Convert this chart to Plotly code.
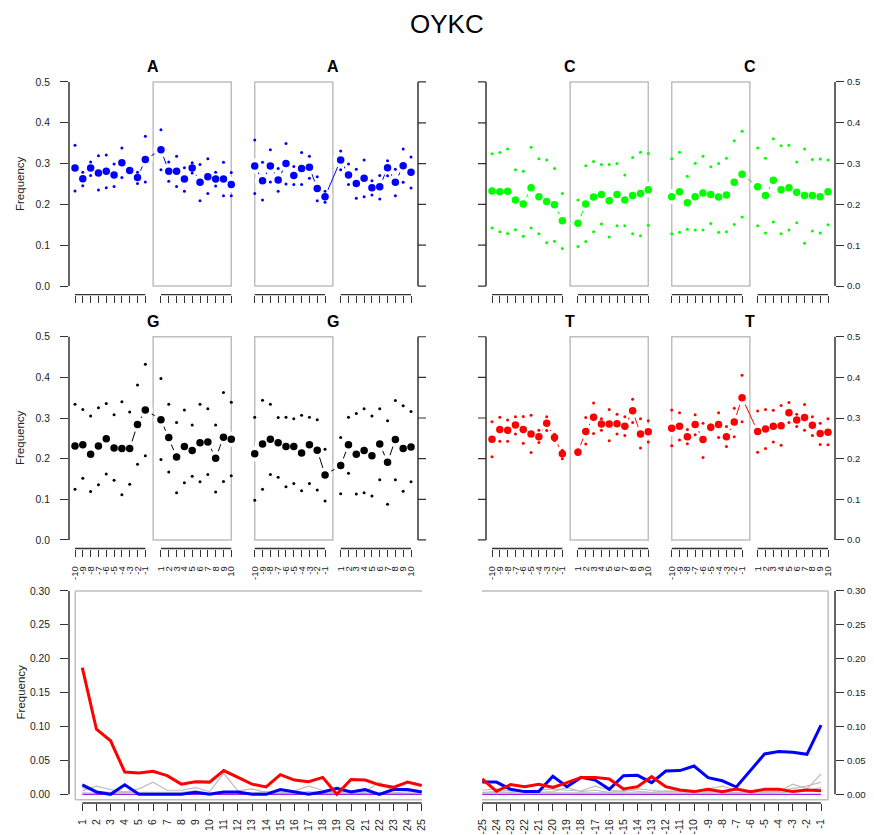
import plotly.graph_objects as go

# The page body has an 8px margin; reference pixel coordinates are shifted by it.
OFF = 8
W, H = 874 - OFF, 835 - OFF
FONT = "Liberation Sans, Arial, Helvetica, sans-serif"

# ---------------- data ----------------
POS_LABELS = [str(i) for i in range(-10, 0)] + [str(i) for i in range(1, 11)]
TICK_LABELS = POS_LABELS + POS_LABELS
X_POS = list(range(1, 11)) + list(range(12, 22)) + list(range(24, 34)) + list(range(35, 45))

A_mean = [0.289, 0.263, 0.289, 0.277, 0.281, 0.272, 0.302, 0.283, 0.266, 0.310,
          0.334, 0.281, 0.281, 0.262, 0.289, 0.254, 0.268, 0.262, 0.262, 0.249,
          0.294, 0.258, 0.294, 0.260, 0.300, 0.271, 0.288, 0.291, 0.239, 0.219,
          0.309, 0.272, 0.251, 0.264, 0.241, 0.243, 0.290, 0.254, 0.295, 0.279]
A_hi = [0.345, 0.279, 0.304, 0.319, 0.321, 0.299, 0.338, 0.287, 0.279, 0.367,
        0.383, 0.304, 0.318, 0.290, 0.302, 0.298, 0.312, 0.279, 0.303, 0.278,
        0.358, 0.303, 0.334, 0.288, 0.349, 0.293, 0.327, 0.318, 0.268, 0.232,
        0.331, 0.299, 0.286, 0.309, 0.258, 0.271, 0.307, 0.286, 0.336, 0.316]
A_lo = [0.233, 0.246, 0.271, 0.235, 0.241, 0.244, 0.266, 0.279, 0.251, 0.255,
        0.285, 0.257, 0.244, 0.232, 0.277, 0.209, 0.227, 0.245, 0.221, 0.221,
        0.227, 0.211, 0.255, 0.232, 0.250, 0.249, 0.249, 0.264, 0.209, 0.205,
        0.285, 0.249, 0.215, 0.219, 0.223, 0.213, 0.270, 0.221, 0.254, 0.240]

C_mean = [0.233, 0.231, 0.232, 0.211, 0.201, 0.241, 0.219, 0.207, 0.199, 0.160,
          0.154, 0.201, 0.218, 0.224, 0.209, 0.224, 0.211, 0.222, 0.227, 0.236,
          0.219, 0.231, 0.204, 0.219, 0.228, 0.224, 0.218, 0.223, 0.254, 0.274,
          0.243, 0.222, 0.259, 0.236, 0.241, 0.230, 0.222, 0.222, 0.219, 0.231]
C_hi = [0.324, 0.327, 0.336, 0.285, 0.281, 0.340, 0.312, 0.309, 0.288, 0.227,
        0.211, 0.295, 0.305, 0.298, 0.298, 0.300, 0.272, 0.315, 0.328, 0.325,
        0.312, 0.328, 0.269, 0.301, 0.318, 0.292, 0.300, 0.313, 0.356, 0.379,
        0.338, 0.313, 0.361, 0.344, 0.345, 0.304, 0.336, 0.310, 0.311, 0.309]
C_lo = [0.142, 0.133, 0.129, 0.138, 0.122, 0.142, 0.128, 0.106, 0.110, 0.092,
        0.097, 0.109, 0.133, 0.152, 0.120, 0.148, 0.148, 0.128, 0.123, 0.149,
        0.128, 0.132, 0.139, 0.137, 0.137, 0.153, 0.132, 0.133, 0.151, 0.169,
        0.148, 0.130, 0.157, 0.128, 0.137, 0.155, 0.105, 0.135, 0.130, 0.150]

G_mean = [0.231, 0.234, 0.211, 0.231, 0.249, 0.226, 0.225, 0.225, 0.284, 0.320,
          0.296, 0.252, 0.204, 0.230, 0.220, 0.239, 0.241, 0.201, 0.253, 0.248,
          0.212, 0.236, 0.248, 0.239, 0.230, 0.230, 0.214, 0.234, 0.221, 0.160,
          0.183, 0.234, 0.211, 0.220, 0.207, 0.236, 0.191, 0.247, 0.225, 0.229]
G_hi = [0.334, 0.321, 0.305, 0.325, 0.336, 0.308, 0.340, 0.315, 0.381, 0.432,
        0.397, 0.334, 0.289, 0.320, 0.283, 0.334, 0.323, 0.283, 0.363, 0.339,
        0.302, 0.344, 0.334, 0.301, 0.302, 0.298, 0.307, 0.302, 0.296, 0.223,
        0.252, 0.302, 0.311, 0.323, 0.305, 0.323, 0.293, 0.343, 0.330, 0.316]
G_lo = [0.125, 0.152, 0.119, 0.136, 0.162, 0.147, 0.111, 0.137, 0.186, 0.207,
        0.198, 0.167, 0.116, 0.141, 0.157, 0.143, 0.161, 0.118, 0.144, 0.158,
        0.098, 0.125, 0.161, 0.154, 0.131, 0.139, 0.121, 0.139, 0.123, 0.096,
        0.114, 0.164, 0.113, 0.116, 0.108, 0.148, 0.088, 0.148, 0.120, 0.143]

T_mean = [0.248, 0.272, 0.270, 0.283, 0.272, 0.261, 0.254, 0.287, 0.252, 0.212,
          0.216, 0.267, 0.302, 0.285, 0.285, 0.286, 0.280, 0.318, 0.261, 0.266,
          0.275, 0.280, 0.254, 0.284, 0.247, 0.277, 0.284, 0.254, 0.290, 0.350,
          0.267, 0.273, 0.280, 0.281, 0.313, 0.295, 0.301, 0.282, 0.262, 0.265]
T_hi = [0.291, 0.302, 0.295, 0.303, 0.304, 0.307, 0.270, 0.303, 0.260, 0.221,
        0.222, 0.301, 0.337, 0.298, 0.321, 0.309, 0.303, 0.346, 0.298, 0.293,
        0.320, 0.313, 0.272, 0.308, 0.287, 0.283, 0.313, 0.279, 0.324, 0.405,
        0.317, 0.321, 0.319, 0.331, 0.338, 0.309, 0.333, 0.303, 0.287, 0.298]
T_lo = [0.205, 0.243, 0.243, 0.261, 0.238, 0.215, 0.240, 0.269, 0.245, 0.200,
        0.211, 0.236, 0.262, 0.270, 0.244, 0.261, 0.257, 0.289, 0.226, 0.241,
        0.232, 0.246, 0.237, 0.259, 0.203, 0.271, 0.252, 0.230, 0.254, 0.291,
        0.216, 0.225, 0.241, 0.233, 0.289, 0.279, 0.270, 0.257, 0.235, 0.234]

# bottom panels
START_POS = list(range(1, 26))
END_POS = list(range(-25, 0))

start_red = [0.187, 0.096, 0.079, 0.033, 0.0315, 0.034, 0.0275, 0.015, 0.0187, 0.018,
             0.035, 0.0246, 0.015, 0.011, 0.029, 0.021, 0.0187, 0.025, 0.0, 0.022,
             0.021, 0.014, 0.0103, 0.018, 0.013]
start_blue = [0.014, 0.0035, 0.0, 0.014, 0.0, 0.0, 0.0, 0.0, 0.003, 0.0,
              0.0035, 0.0035, 0.0, 0.0, 0.007, 0.0035, 0.0, 0.0035, 0.009, 0.0035,
              0.007, 0.0, 0.007, 0.007, 0.0035]
start_gray1 = [0.005, 0.012, 0.007, 0.003, 0.008, 0.018, 0.006, 0.006, 0.010, 0.004,
               0.031, 0.005, 0.008, 0.003, 0.005, 0.005, 0.012, 0.006, 0.003, 0.005,
               0.004, 0.018, 0.005, 0.007, 0.005]
start_gray2 = [0.010, 0.004, 0.003, 0.002, 0.003, 0.003, 0.004, 0.003, 0.005, 0.002,
               0.004, 0.003, 0.002, 0.004, 0.003, 0.002, 0.004, 0.002, 0.003, 0.004,
               0.002, 0.003, 0.002, 0.004, 0.003]
start_gray3 = [0.002, 0.002, 0.001, 0.004, 0.002, 0.001, 0.002, 0.001, 0.002, 0.001,
               0.002, 0.001, 0.001, 0.002, 0.001, 0.002, 0.001, 0.001, 0.002, 0.001,
               0.001, 0.002, 0.001, 0.001, 0.002]
start_purple = [0.0] * 25

end_red = [0.0226, 0.0044, 0.0143, 0.0113, 0.0148, 0.0103, 0.0172, 0.025, 0.025, 0.0226,
           0.0079, 0.0113, 0.026, 0.0113, 0.0064, 0.004, 0.0074, 0.004, 0.0079, 0.004,
           0.0074, 0.0074, 0.004, 0.0064, 0.0054]
end_blue = [0.018, 0.018, 0.0074, 0.004, 0.004, 0.0266, 0.0113, 0.025, 0.021, 0.0074,
            0.0275, 0.028, 0.0172, 0.0344, 0.035, 0.0418, 0.0246, 0.020, 0.0108, 0.036,
            0.0595, 0.063, 0.062, 0.059, 0.102]
end_gray1 = [0.006, 0.008, 0.005, 0.004, 0.006, 0.008, 0.006, 0.005, 0.012, 0.006,
             0.004, 0.008, 0.006, 0.004, 0.005, 0.004, 0.008, 0.012, 0.006, 0.004,
             0.005, 0.004, 0.015, 0.008, 0.030]
end_gray2 = [0.003, 0.004, 0.003, 0.006, 0.003, 0.004, 0.010, 0.004, 0.006, 0.003,
             0.006, 0.004, 0.003, 0.005, 0.004, 0.003, 0.004, 0.003, 0.002, 0.004,
             0.003, 0.005, 0.008, 0.012, 0.018]
end_gray3 = [0.002, 0.002, 0.003, 0.002, 0.002, 0.003, 0.002, 0.003, 0.002, 0.002,
             0.003, 0.002, 0.002, 0.002, 0.003, 0.002, 0.003, 0.002, 0.002, 0.002,
             0.002, 0.002, 0.004, 0.006, 0.010]
end_purple = [0.0] * 25

# ---------------- layout helpers ----------------
AX_COL = "#333333"
BOX_COL = "#BEBEBE"
TICKLEN = 8


def xdom(p0, p1):
    return [(p0 - OFF) / W, (p1 - OFF) / W]


def ydom(top, bottom):
    return [1 - (bottom - OFF) / H, 1 - (top - OFF) / H]


def px_x(px):
    return (px - OFF) / W


def px_y(py):
    return 1 - (py - OFF) / H


fig = go.Figure()
shapes = []
annotations = []

TOP_Y = (73.8, 294.6)
MID_Y = (328.6, 548.5)
BOT_Y = (582.5, 803.0)
panels = {
    1: dict(xpx=(69, 418), ypx=TOP_Y, side="left", row="top"),
    2: dict(xpx=(486, 835), ypx=TOP_Y, side="right", row="top"),
    3: dict(xpx=(69, 418), ypx=MID_Y, side="left", row="mid"),
    4: dict(xpx=(486, 835), ypx=MID_Y, side="right", row="mid"),
}

series = {
    1: ("A", "#0000FF", A_mean, A_hi, A_lo),
    2: ("C", "#00FF00", C_mean, C_hi, C_lo),
    3: ("G", "#000000", G_mean, G_hi, G_lo),
    4: ("T", "#FF0000", T_mean, T_hi, T_lo),
}


def ax_name(i, kind):
    return kind if i == 1 else f"{kind}{i}"


def split(vals):
    xs = X_POS[:20] + [None] + X_POS[20:]
    ys = list(vals[:20]) + [None] + list(vals[20:])
    return xs, ys


Y_TICKS = [0.0, 0.1, 0.2, 0.3, 0.4, 0.5]
BOT_TICKS = [0.0, 0.05, 0.10, 0.15, 0.20, 0.25, 0.30]


def standoff(side):
    return 8 if side == "left" else 1


def lab_size(side):
    return 10.3 if side == "left" else 9.6


for i, p in panels.items():
    name, col, mean, hi, lo = series[i]
    xa, ya = ax_name(i, "x"), ax_name(i, "y")
    lx, ly = split(mean)
    fig.add_trace(go.Scatter(x=lx, y=ly, mode="lines", xaxis=xa, yaxis=ya,
                             line=dict(color=col, width=1), hoverinfo="skip", showlegend=False))
    fig.add_trace(go.Scatter(x=X_POS, y=mean, mode="markers", xaxis=xa, yaxis=ya,
                             marker=dict(color="white", size=15, line=dict(width=0)),
                             hoverinfo="skip", showlegend=False))
    fig.add_trace(go.Scatter(x=X_POS + X_POS, y=hi + lo, mode="markers", xaxis=xa, yaxis=ya,
                             marker=dict(color=col, size=3, line=dict(width=0)),
                             showlegend=False))
    fig.add_trace(go.Scatter(x=X_POS, y=mean, mode="markers", xaxis=xa, yaxis=ya,
                             marker=dict(color=col, size=7.5, line=dict(width=0)),
                             showlegend=False))

    wpx = p["xpx"][1] - p["xpx"][0]
    fig.layout[ax_name(i, "xaxis")] = dict(
        domain=xdom(*p["xpx"]), range=[0.232, 44.896], anchor=ya, automargin=False,
        tickmode="array", tickvals=X_POS, ticktext=TICK_LABELS,
        ticks="outside", ticklen=7, tickwidth=1, tickcolor=AX_COL,
        showticklabels=(p["row"] == "mid"), tickangle=-90,
        tickfont=dict(size=9.5, color="#222", family=FONT), ticklabelstandoff=6,
        showgrid=False, zeroline=False, showline=False, fixedrange=True)
    fig.layout[ax_name(i, "yaxis")] = dict(
        domain=ydom(*p["ypx"]), range=[-0.021, 0.52], anchor=xa, side=p["side"], automargin=False,
        tickmode="array", tickvals=Y_TICKS, ticktext=[f"{v:.1f}" for v in Y_TICKS],
        ticks="outside", ticklen=TICKLEN, tickwidth=1.2, tickcolor=AX_COL,
        tickfont=dict(size=lab_size(p["side"]), color="#222", family=FONT),
        ticklabelstandoff=standoff(p["side"]),
        showgrid=False, zeroline=False, showline=False, fixedrange=True)

    xr, yr = xa, ya
    for (bx0, bx1) in [(11, 21), (24, 34)]:
        shapes.append(dict(type="rect", xref=xr, yref=yr, x0=bx0, x1=bx1, y0=0, y1=0.5,
                           line=dict(color=BOX_COL, width=1.5), layer="below"))
    for seg in [X_POS[0:10], X_POS[10:20], X_POS[20:30], X_POS[30:40]]:
        shapes.append(dict(type="line", xref=xr, yref=f"{yr} domain", x0=seg[0], x1=seg[-1],
                           y0=0, y1=0, line=dict(color=AX_COL, width=1.3)))
    other = 1 if p["side"] == "left" else 0
    for xd in (0, 1):
        shapes.append(dict(type="line", xref=f"{xr} domain", yref=yr, x0=xd, x1=xd,
                           y0=0, y1=0.5, line=dict(color=AX_COL, width=1.5)))
    dx = TICKLEN / wpx
    for v in Y_TICKS:
        shapes.append(dict(type="line", xref=f"{xr} domain", yref=yr, x0=other,
                           x1=other + (dx if other == 1 else -dx), y0=v, y1=v,
                           line=dict(color=AX_COL, width=1.2)))
    ty = 66 if p["row"] == "top" else 321
    for cx in (11, 34):
        annotations.append(dict(text=f"<b>{name}</b>", x=cx, xref=xr, y=px_y(ty), yref="paper",
                                showarrow=False, font=dict(size=16, family=FONT, color="black"),
                                xanchor="center", yanchor="middle"))

# ---------------- bottom panels ----------------
bottom = {
    5: dict(xpx=(69, 422), xrange=[0.06, 25.02], pos=START_POS, side="left",
            lines=[(start_gray1, "#BEBEBE", 1.2), (start_gray2, "#BEBEBE", 1.2),
                   (start_gray3, "#BEBEBE", 1.2), (start_purple, "#A020F0", 1.2),
                   (start_blue, "#0000FF", 3), (start_red, "#FF0000", 3)]),
    6: dict(xpx=(482, 835), xrange=[-25.02, -0.01], pos=END_POS, side="right",
            lines=[(end_gray1, "#BEBEBE", 1.2), (end_gray2, "#BEBEBE", 1.2),
                   (end_gray3, "#BEBEBE", 1.2), (end_purple, "#A020F0", 1.2),
                   (end_blue, "#0000FF", 3), (end_red, "#FF0000", 3)]),
}
for i, p in bottom.items():
    xa, ya = ax_name(i, "x"), ax_name(i, "y")
    for vals, col, w in p["lines"]:
        fig.add_trace(go.Scatter(x=p["pos"], y=vals, mode="lines", xaxis=xa, yaxis=ya,
                                 line=dict(color=col, width=w), showlegend=False))
    fig.layout[ax_name(i, "xaxis")] = dict(
        domain=xdom(*p["xpx"]), range=p["xrange"], anchor=ya, automargin=False,
        tickmode="array", tickvals=p["pos"], ticktext=[str(v) for v in p["pos"]],
        ticks="outside", ticklen=7, tickwidth=1, tickcolor=AX_COL,
        showticklabels=True, tickangle=-90,
        tickfont=dict(size=10.5, color="#222", family=FONT), ticklabelstandoff=4,
        showgrid=False, zeroline=False, showline=False, fixedrange=True)
    fig.layout[ax_name(i, "yaxis")] = dict(
        domain=ydom(*BOT_Y), range=[-0.0128, 0.3125], anchor=xa, side=p["side"], automargin=False,
        tickmode="array", tickvals=BOT_TICKS, ticktext=[f"{v:.2f}" for v in BOT_TICKS],
        ticks="outside", ticklen=TICKLEN, tickwidth=1.2, tickcolor=AX_COL,
        tickfont=dict(size=lab_size(p["side"]), color="#222", family=FONT),
        ticklabelstandoff=standoff(p["side"]),
        showgrid=False, zeroline=False, showline=False, fixedrange=True)
    xd = 0 if p["side"] == "left" else 1
    shapes.append(dict(type="line", xref=f"{xa} domain", yref=ya, x0=xd, x1=xd,
                       y0=0, y1=0.30, line=dict(color=AX_COL, width=1.5)))
    shapes.append(dict(type="line", xref=xa, yref=f"{ya} domain", x0=p["pos"][0], x1=p["pos"][-1],
                       y0=0, y1=0, line=dict(color=AX_COL, width=1.3)))
    lo_y = -0.008
    if p["side"] == "left":
        xin, xout = 0.5, p["xrange"][1]
    else:
        xin, xout = -0.5, p["xrange"][0]
    for (x0, x1, y0, y1) in [(xin, xout, 0.30, 0.30), (xin, xout, lo_y, lo_y), (xin, xin, lo_y, 0.30)]:
        shapes.append(dict(type="line", xref=xa, yref=ya, x0=x0, x1=x1, y0=y0, y1=y1,
                           line=dict(color=BOX_COL, width=1.5), layer="below"))

for cy in (184, 438, 692.5):
    annotations.append(dict(text="Frequency", x=px_x(20), y=px_y(cy), xref="paper", yref="paper",
                            textangle=-90, showarrow=False,
                            font=dict(size=11.5, family=FONT, color="#222"),
                            xanchor="center", yanchor="middle"))
annotations.append(dict(text="OYKC", x=px_x(447), y=px_y(24), xref="paper", yref="paper",
                        showarrow=False, font=dict(size=26, family=FONT, color="black"),
                        xanchor="center", yanchor="middle"))

fig.update_layout(width=W, height=H, margin=dict(l=0, r=0, t=0, b=0, autoexpand=False),
                  paper_bgcolor="white", plot_bgcolor="white",
                  shapes=shapes, annotations=annotations, showlegend=False,
                  font=dict(family=FONT))
fig.write_html("out.html")
